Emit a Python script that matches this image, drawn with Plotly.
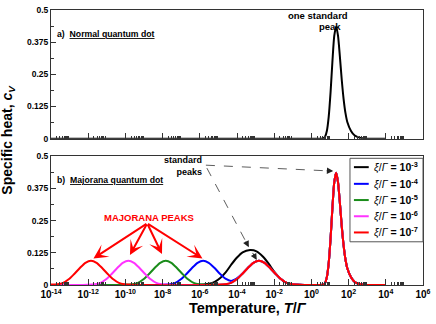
import numpy as np
import plotly.graph_objects as go
from plotly.subplots import make_subplots

# ---------------- data (x given as log10(T/Gamma)) ----------------
# standard (Schottky-like) peak shared by every curve
std_log10T = [0.45, 0.63, 0.73, 0.83, 0.93, 1.03, 1.13, 1.23, 1.33, 1.43, 1.53, 1.63, 1.73,
              1.83, 1.93, 2.13, 2.33, 2.53, 2.83, 3.3, 4.0]
std_c = [0, 0.001, 0.007, 0.03, 0.085, 0.18, 0.30, 0.40, 0.436, 0.40, 0.32, 0.23, 0.155,
         0.10, 0.065, 0.03, 0.012, 0.005, 0.001, 0, 0]

# second standard peak near T ~ 1e-3 (xi <= 1e-4 curves)
common_log10T = [-5.02, -4.62, -4.32, -4.02, -3.72, -3.42, -3.12, -2.82, -2.52, -2.22,
                 -1.92, -1.62, -1.32, -1.02, -0.62, 0.0]
common_c = [0.001, 0.003, 0.008, 0.022, 0.043, 0.066, 0.086, 0.094, 0.086, 0.066,
            0.043, 0.022, 0.008, 0.003, 0.001, 0]

# panel a) normal quantum dot
normal_log10T = [-14, -7, 0.0]
normal_c = [0, 0, 0]

# panel b) Majorana quantum dot, low-temperature parts
xi3_log10T = [-14, -6.2, -5.8, -5.5, -5.2, -4.9, -4.6, -4.3, -4.0, -3.7, -3.3, -2.95, -2.6,
              -2.3, -2.0, -1.7, -1.4, -1.1, -0.7, -0.2]
xi3_c = [0, 0, 0.002, 0.005, 0.012, 0.027, 0.05, 0.08, 0.107, 0.127, 0.136, 0.131, 0.11,
         0.083, 0.052, 0.027, 0.01, 0.004, 0.001, 0]

xi4_log10T = [-14, -8.6, -8.02, -7.62, -7.32, -7.02, -6.72, -6.42, -6.12, -5.82, -5.52,
              -5.22, -4.92, -4.62, -4.32, -4.02, -3.72]
xi4_c = [0, 0, 0.001, 0.003, 0.008, 0.022, 0.043, 0.066, 0.086, 0.094, 0.086,
         0.067, 0.044, 0.025, 0.016, 0.025, 0.044]

xi5_log10T = [-14, -10.6, -10.03, -9.63, -9.33, -9.03, -8.73, -8.43, -8.13, -7.83, -7.53,
              -7.23, -6.93, -6.63, -6.33, -6.03, -5.63]
xi5_c = [0, 0, 0.001, 0.003, 0.008, 0.022, 0.043, 0.066, 0.086, 0.094, 0.086,
         0.066, 0.043, 0.022, 0.008, 0.003, 0.001]

xi6_log10T = [-14, -12.6, -12.04, -11.64, -11.34, -11.04, -10.74, -10.44, -10.14, -9.84,
              -9.54, -9.24, -8.94, -8.64, -8.34, -8.04, -7.64, -7.0]
xi6_c = [0, 0, 0.001, 0.003, 0.008, 0.022, 0.043, 0.066, 0.086, 0.094,
         0.086, 0.066, 0.043, 0.022, 0.008, 0.003, 0.001, 0]

xi7_log10T = [-14, -13.65, -13.35, -13.05, -12.75, -12.45, -12.15, -11.85, -11.55, -11.25,
              -10.95, -10.65, -10.35, -10.05, -9.65, -9.0]
xi7_c = [0.002, 0.003, 0.008, 0.022, 0.043, 0.066, 0.086, 0.094, 0.086, 0.066,
         0.043, 0.022, 0.008, 0.003, 0.001, 0]

series_names = ["<i>ξ</i>/<i>Γ</i><b> = 10<sup>-3</sup></b>",
                "<i>ξ</i>/<i>Γ</i><b> = 10<sup>-4</sup></b>",
                "<i>ξ</i>/<i>Γ</i><b> = 10<sup>-5</sup></b>",
                "<i>ξ</i>/<i>Γ</i><b> = 10<sup>-6</sup></b>",
                "<i>ξ</i>/<i>Γ</i><b> = 10<sup>-7</sup></b>"]
series_colors = ["#000000", "#0000ff", "#1a8c1a", "#ff33ff", "#ff0000"]

x_tick_exp = [-14, -12, -10, -8, -6, -4, -2, 0, 2, 4, 6]
x_tick_text = ["10<sup>%d</sup>" % e for e in x_tick_exp]
y_tick_vals = [0, 0.125, 0.25, 0.375, 0.5]
y_tick_text = ["0", "0.125", "0.25", "0.375", "0.5"]
y_minor_vals = [0.0625, 0.1875, 0.3125, 0.4375]
x_minor_vals = [m * 10.0 ** e for e in x_tick_exp[:-1] for m in range(2, 10)]

# ---------------- build curves ----------------
bottom_series = [
    (xi3_log10T + std_log10T, xi3_c + std_c),
    (xi4_log10T + common_log10T[5:] + std_log10T, xi4_c + common_c[5:] + std_c),
    (xi5_log10T + common_log10T + std_log10T, xi5_c + common_c + std_c),
    (xi6_log10T + common_log10T + std_log10T, xi6_c + common_c + std_c),
    (xi7_log10T + common_log10T + std_log10T, xi7_c + common_c + std_c),
]

FONT = "Liberation Sans, Arial, Helvetica, sans-serif"

fig = make_subplots(rows=2, cols=1)

fig.add_trace(go.Scatter(x=10.0 ** np.array(normal_log10T + std_log10T),
                         y=normal_c + std_c, mode="lines", name="normal quantum dot",
                         line=dict(color="#000000", width=2, shape="spline", smoothing=0.7),
                         showlegend=False, hoverinfo="skip"), row=1, col=1)

for (lx, cy), name, col in zip(bottom_series, series_names, series_colors):
    fig.add_trace(go.Scatter(x=10.0 ** np.array(lx), y=cy, mode="lines", name=name,
                             line=dict(color=col, width=2, shape="spline", smoothing=0.7),
                             showlegend=False, hoverinfo="skip"), row=2, col=1)

axis_line = "#333333"
xcommon = dict(type="log", range=[-14, 6], tickmode="array",
               tickvals=[10.0 ** e for e in x_tick_exp], ticktext=x_tick_text,
               ticks="inside", ticklen=6, tickwidth=1, tickcolor=axis_line,
               minor=dict(tickmode="array", tickvals=x_minor_vals, ticks="inside",
                          ticklen=3, tickwidth=1, tickcolor=axis_line, showgrid=False),
               showline=True, linecolor=axis_line, linewidth=1, mirror=True,
               showgrid=False, zeroline=False,
               tickfont=dict(family=FONT, size=10, color="#000", weight="bold"))
ycommon = dict(range=[0, 0.5], tickmode="array", tickvals=y_tick_vals, ticktext=y_tick_text,
               ticks="inside", ticklen=5, tickwidth=1, tickcolor=axis_line,
               minor=dict(tickmode="array", tickvals=y_minor_vals, ticks="inside",
                          ticklen=3, tickwidth=1, tickcolor=axis_line, showgrid=False),
               showline=True, linecolor=axis_line, linewidth=1, mirror=True,
               showgrid=False, zeroline=False,
               tickfont=dict(family=FONT, size=8.5, color="#000", weight="bold"))

fig.update_layout(
    xaxis=dict(xcommon, domain=[0, 1], showticklabels=False, anchor="y"),
    xaxis2=dict(xcommon, domain=[0, 1], anchor="y2"),
    yaxis=dict(ycommon, domain=[149 / 280, 1], anchor="x"),
    yaxis2=dict(ycommon, domain=[0, 131 / 280], anchor="x2"),
)

ann = []
shapes = []
# panel labels
ann.append(dict(xref="x domain", yref="y domain", x=0.011, y=0.817, xanchor="left",
                yanchor="middle", showarrow=False,
                text="<b>a)  <u>Normal quantum dot</u></b>",
                font=dict(family=FONT, size=8.7, color="#000")))
ann.append(dict(xref="x domain", yref="y domain", x=(322 - 51) / 377, y=(136 - 11) / 131,
                xanchor="center", yanchor="middle", showarrow=False,
                text="<b>one standard</b>", font=dict(family=FONT, size=9.5, color="#000")))
ann.append(dict(xref="x domain", yref="y domain", x=(334 - 51) / 377, y=(136 - 21.5) / 131,
                xanchor="center", yanchor="middle", showarrow=False,
                text="<b>peak</b>", font=dict(family=FONT, size=9.5, color="#000")))
ann.append(dict(xref="x2 domain", yref="y2 domain", x=0.011, y=0.817, xanchor="left",
                yanchor="middle", showarrow=False,
                text="<b>b)  <u>Majorana quantum dot</u></b>",
                font=dict(family=FONT, size=8.7, color="#000")))
ann.append(dict(xref="x2 domain", yref="y2 domain", x=0.411, y=0.927, xanchor="right",
                yanchor="middle", align="right", showarrow=False,
                text="<b>standard<br>peaks</b>",
                font=dict(family=FONT, size=9, color="#000")))
ann.append(dict(xref="x2 domain", yref="y2 domain", x=0.2639, y=0.5214, xanchor="center",
                yanchor="middle", showarrow=False, text="<b>MAJORANA PEAKS</b>",
                font=dict(family=FONT, size=9.5, color="#ff0000")))
# red arrows to Majorana peaks (tip position, tail offset in px)
for tx, ty, ax, ay in [(0.1141, 0.2061, 54.5, -35.5), (0.2122, 0.2328, 17.5, -32),
                       (0.2984, 0.2405, -15, -31), (0.4072, 0.2061, -56, -35.5)]:
    ann.append(dict(xref="x2 domain", yref="y2 domain", x=tx, y=ty, ax=ax, ay=ay,
                    axref="pixel", ayref="pixel", text="", showarrow=True,
                    arrowhead=3, arrowsize=1.2, arrowwidth=2, arrowcolor="#ff0000"))
# dashed arrows: dashed shaft as shapes, heads as annotations
shapes += [
    dict(type="line", xref="x2 domain", yref="y2 domain", x0=0.4164, y0=0.9313,
         x1=0.740, y1=0.8878, line=dict(color="#333", width=0.8, dash="dash")),
    dict(type="line", xref="x2 domain", yref="y2 domain", x0=0.4191, y0=0.9084,
         x1=0.5231, y1=0.3412, line=dict(color="#333", width=0.8, dash="dash")),
]
for tx, ty, ax, ay in [(0.7586, 0.8855, -8, -0.4), (0.5318, 0.2939, -3.7, -7.1),
                       (0.5531, 0.1947, -5, -8.5)]:
    ann.append(dict(xref="x2 domain", yref="y2 domain", x=tx, y=ty, ax=ax, ay=ay,
                    axref="pixel", ayref="pixel", text="", showarrow=True,
                    arrowhead=2, arrowsize=1.4, arrowwidth=0.9, arrowcolor="#222"))

# legend box (drawn as a frame with samples and labels)
shapes.append(dict(type="rect", xref="x2 domain", yref="y2 domain",
                   x0=(354 - 51) / 377, x1=1.0, y0=(285 - 241) / 131, y1=(285 - 156) / 131,
                   line=dict(color="#555", width=1), fillcolor="white", layer="above"))
legend_rows_y = [165, 182, 198.5, 215, 231.5]
for py, name, col in zip(legend_rows_y, series_names, series_colors):
    yd = (285 - py) / 131
    shapes.append(dict(type="line", xref="x2 domain", yref="y2 domain",
                       x0=(358 - 51) / 377, x1=(373 - 51) / 377, y0=yd, y1=yd,
                       line=dict(color=col, width=2), layer="above"))
    ann.append(dict(xref="x2 domain", yref="y2 domain", x=(376.5 - 51) / 377, y=yd,
                    xanchor="left", yanchor="middle", showarrow=False, text=name,
                    font=dict(family=FONT, size=10.5, color="#000")))

# axis titles
ann.append(dict(xref="paper", yref="paper", x=-0.1154, y=0.5286, xanchor="center",
                yanchor="middle", textangle=-90, showarrow=False,
                text="<b>Specific heat, <i>c<sub>V</sub></i></b>",
                font=dict(family=FONT, size=14, color="#000")))
ann.append(dict(xref="paper", yref="paper", x=0.529, y=-0.082, xanchor="center",
                yanchor="middle", showarrow=False,
                text="<b>Temperature, <i>T</i>/<i>Γ</i></b>",
                font=dict(family=FONT, size=14.5, color="#000")))

fig.update_layout(
    width=436, height=324,
    margin=dict(l=51, r=8, t=5, b=39),
    paper_bgcolor="white", plot_bgcolor="white",
    annotations=ann, shapes=shapes,
    showlegend=False,
    font=dict(family=FONT),
)

fig.write_html("out.html", config={"displayModeBar": False},
               post_script="document.body.style.margin='0';"
                           "document.body.style.overflow='hidden';")
